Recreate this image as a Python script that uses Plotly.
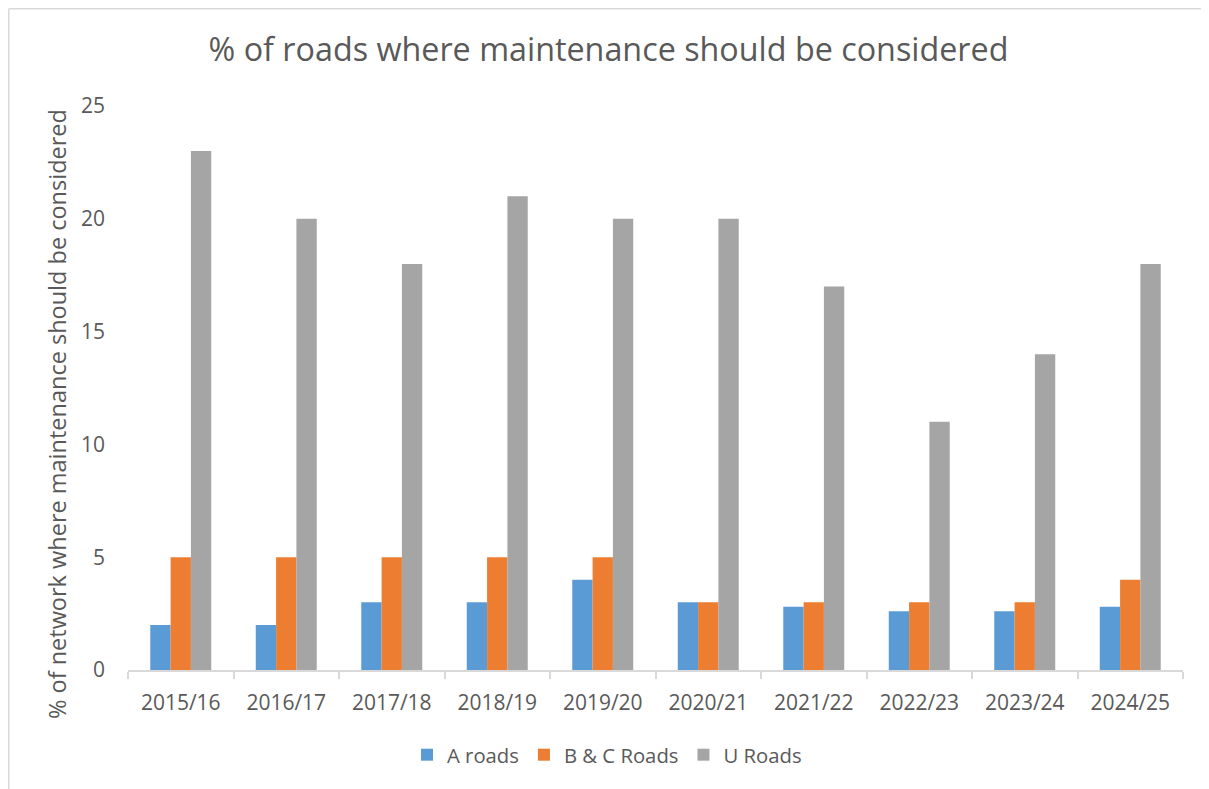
import plotly.graph_objects as go

years = ["2015/16", "2016/17", "2017/18", "2018/19", "2019/20",
         "2020/21", "2021/22", "2022/23", "2023/24", "2024/25"]
a_roads = [2, 2, 3, 3, 4, 3, 2.8, 2.6, 2.6, 2.8]
bc_roads = [5, 5, 5, 5, 5, 3, 3, 3, 3, 4]
u_roads = [23, 20, 18, 21, 20, 20, 17, 11, 14, 18]

series = [("A roads", a_roads, "#5b9bd5"),
          ("B & C Roads", bc_roads, "#ed7d31"),
          ("U Roads", u_roads, "#a5a5a5")]

FONT = "Open Sans"
GREY = "#595959"

fig = go.Figure()
for name, vals, col in series:
    fig.add_trace(go.Bar(x=years, y=vals, name=name, marker_color=col,
                         marker_line_width=0))

# page has an 8px body margin; figure sized so it fills the window
W, H = 1201, 781
L, R, T, B = 120, 26, 98, 119
PW, PH = W - L - R, H - T - B

fig.update_layout(
    width=W, height=H,
    margin=dict(l=L, r=R, t=T, b=B),
    paper_bgcolor="white", plot_bgcolor="white",
    barmode="group", bargap=0.422, bargroupgap=0,
    font=dict(family=FONT, color=GREY),
    title=dict(text="% of roads where maintenance should be considered",
               x=0.5, xref="container", xanchor="center",
               y=1 - 42 / H, yanchor="middle",
               font=dict(size=32.3, color=GREY, family=FONT)),
    legend=dict(orientation="h", x=(607 - 8 - L) / PW, xanchor="center",
                y=(T + PH - 747) / PH, yanchor="middle",
                font=dict(size=20.3, color=GREY),
                traceorder="normal"),
    showlegend=True,
)
fig.update_xaxes(showline=True, linecolor="#d9d9d9", linewidth=1.5,
                 ticks="outside", tickson="boundaries", ticklen=7,
                 tickcolor="#d9d9d9", tickwidth=1.5,
                 ticklabelstandoff=13,
                 tickfont=dict(size=21, color=GREY), showgrid=False)
fig.update_yaxes(range=[0, 25], dtick=5, showgrid=False, zeroline=False,
                 showline=False, tickfont=dict(size=21, color=GREY),
                 ticklabelstandoff=22)

fig.add_annotation(text="% of network where maintenance should be considered",
                   xref="paper", yref="paper", textangle=-90,
                   x=(57 - 8 - L) / PW, y=(T + PH - (414 - 8)) / PH,
                   xanchor="center", yanchor="middle", showarrow=False,
                   font=dict(size=23.5, color=GREY, family=FONT))

border = dict(color="#d9d9d9", width=1.5)
fig.add_shape(type="line", xref="paper", yref="paper",
              x0=(0.75 - L) / PW, x1=(0.75 - L) / PW,
              y0=(T + PH - H) / PH, y1=(T + PH - 0.75) / PH,
              line=border, layer="below")
fig.add_shape(type="line", xref="paper", yref="paper",
              x0=(0.75 - L) / PW, x1=(W - L) / PW,
              y0=(T + PH - 0.75) / PH, y1=(T + PH - 0.75) / PH,
              line=border, layer="below")

fig.write_html("out.html")
